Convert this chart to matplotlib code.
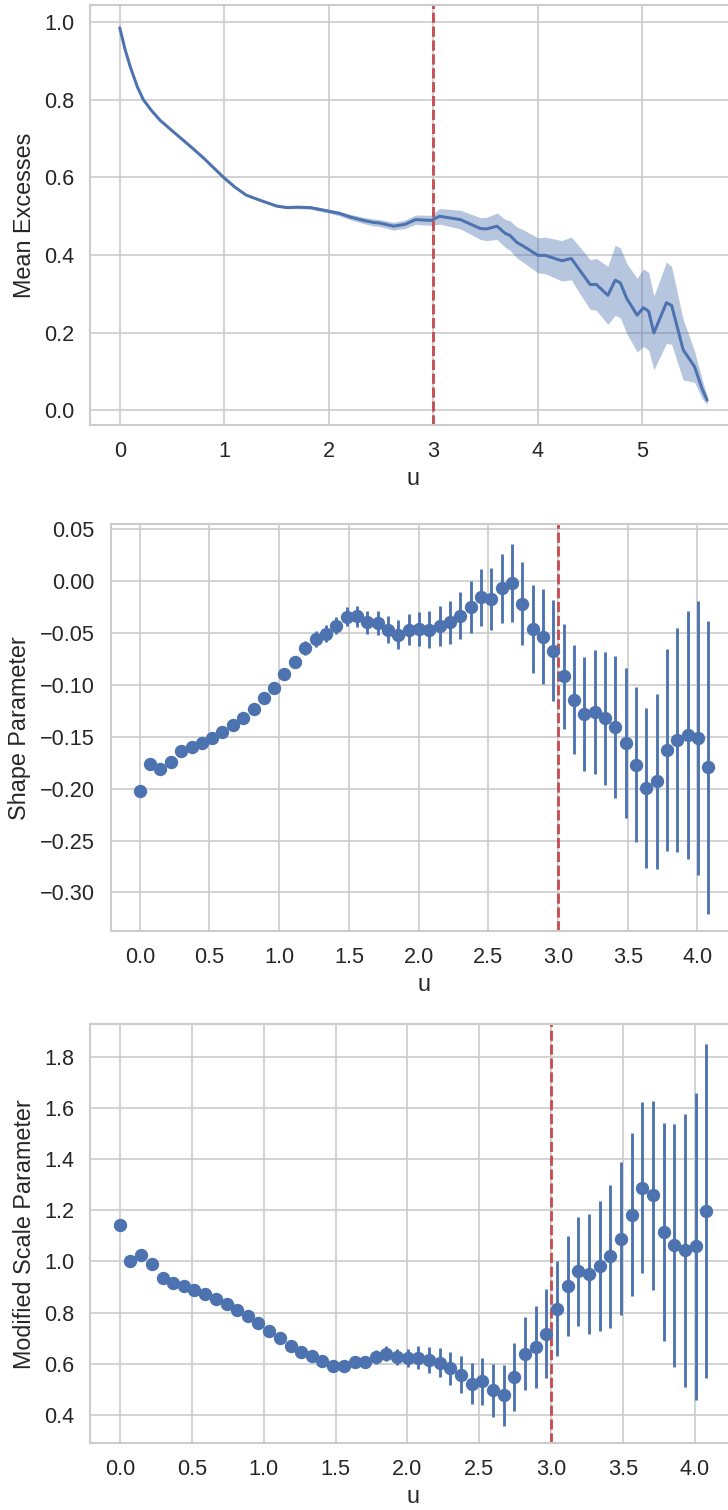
import numpy as np
import matplotlib
matplotlib.use("Agg")
import matplotlib.pyplot as plt
import seaborn as sns

# ---------------- data ----------------
# Mean excess plot
me_u = [0.0, 0.05, 0.10, 0.168, 0.225, 0.30, 0.385, 0.5, 0.6, 0.7, 0.8, 0.9, 1.0, 1.1,
        1.21, 1.35, 1.5, 1.6, 1.7, 1.82, 1.9, 2.01, 2.1, 2.2, 2.33, 2.42, 2.49, 2.62,
        2.73, 2.83, 2.98, 3.06, 3.26, 3.45, 3.51, 3.61, 3.69, 3.73, 3.80, 3.86, 4.00,
        4.07, 4.23, 4.32, 4.40, 4.50, 4.56, 4.67, 4.74, 4.79, 4.85, 4.95, 5.01, 5.06,
        5.11, 5.23, 5.28, 5.39, 5.50, 5.57, 5.62]
me_val = [0.985, 0.93, 0.885, 0.833, 0.80, 0.773, 0.747, 0.72, 0.697, 0.674, 0.65, 0.624,
          0.598, 0.575, 0.554, 0.54, 0.526, 0.522, 0.523, 0.522, 0.518, 0.512, 0.507,
          0.498, 0.489, 0.484, 0.482, 0.474, 0.479, 0.491, 0.489, 0.4996, 0.491, 0.468,
          0.467, 0.474, 0.455, 0.451, 0.432, 0.423, 0.399, 0.399, 0.385, 0.391, 0.361,
          0.324, 0.324, 0.296, 0.335, 0.328, 0.288, 0.245, 0.264, 0.255, 0.199, 0.277,
          0.270, 0.156, 0.112, 0.056, 0.026]
me_ci = [0.001, 0.001, 0.001, 0.001, 0.001, 0.001, 0.001, 0.001, 0.001, 0.001, 0.001,
         0.001, 0.002, 0.002, 0.002, 0.002, 0.003, 0.003, 0.004, 0.004, 0.005, 0.005,
         0.006, 0.007, 0.008, 0.009, 0.009, 0.010, 0.011, 0.012, 0.013, 0.020, 0.024,
         0.028, 0.030, 0.034, 0.036, 0.038, 0.040, 0.042, 0.045, 0.047, 0.052, 0.055,
         0.060, 0.064, 0.067, 0.075, 0.090, 0.090, 0.090, 0.095, 0.100, 0.100, 0.095,
         0.105, 0.100, 0.078, 0.040, 0.025, 0.011]

# Parameter stability plots (common threshold grid)
u_grid = [0.000, 0.074, 0.148, 0.222, 0.297, 0.371, 0.445, 0.519, 0.593, 0.667, 0.742,
          0.816, 0.890, 0.964, 1.038, 1.112, 1.187, 1.261, 1.335, 1.409, 1.483, 1.557,
          1.632, 1.706, 1.780, 1.854, 1.928, 2.002, 2.076, 2.151, 2.225, 2.299, 2.373,
          2.447, 2.521, 2.596, 2.670, 2.744, 2.818, 2.892, 2.966, 3.041, 3.115, 3.189,
          3.263, 3.337, 3.411, 3.486, 3.560, 3.634, 3.708, 3.782, 3.856, 3.931, 4.005,
          4.079]
shape_val = [-0.2019, -0.1762, -0.181, -0.1742, -0.164, -0.1594, -0.1556, -0.151, -0.1453,
             -0.1386, -0.1318, -0.1231, -0.1128, -0.1025, -0.089, -0.0781, -0.0643,
             -0.0559, -0.0505, -0.0428, -0.0341, -0.0338, -0.0395, -0.0402, -0.0466,
             -0.0514, -0.0466, -0.0456, -0.0466, -0.0434, -0.0395, -0.0331, -0.0248,
             -0.0154, -0.0170, -0.0068, -0.0016, -0.0215, -0.046, -0.0534, -0.0669,
             -0.0916, -0.1141, -0.1279, -0.126, -0.1321, -0.1408, -0.1559, -0.1768,
             -0.1993, -0.1929, -0.1626, -0.1527, -0.1479, -0.1511, -0.1794]
shape_err = [0.002, 0.002, 0.002, 0.002, 0.002, 0.003, 0.003, 0.003, 0.003, 0.003, 0.004,
             0.004, 0.004, 0.005, 0.005, 0.006, 0.007, 0.0075, 0.008, 0.0085, 0.0095,
             0.010, 0.011, 0.012, 0.013, 0.014, 0.0151, 0.0164, 0.0177, 0.0193, 0.0209,
             0.0228, 0.0249, 0.0275, 0.0299, 0.0333, 0.0373, 0.0402, 0.0423, 0.0455,
             0.0485, 0.0508, 0.0527, 0.0551, 0.0599, 0.0641, 0.0683, 0.072, 0.0747,
             0.0768, 0.0841, 0.0972, 0.108, 0.1196, 0.1324, 0.141]
scale_val = [1.143, 1.0, 1.026, 0.988, 0.935, 0.917, 0.902, 0.889, 0.871, 0.854, 0.835,
             0.811, 0.785, 0.760, 0.728, 0.700, 0.668, 0.646, 0.630, 0.610, 0.592, 0.592,
             0.607, 0.607, 0.626, 0.639, 0.626, 0.622, 0.623, 0.616, 0.604, 0.583, 0.557,
             0.522, 0.531, 0.496, 0.476, 0.548, 0.639, 0.665, 0.717, 0.815, 0.904, 0.962,
             0.952, 0.982, 1.0195, 1.089, 1.182, 1.288, 1.258, 1.115, 1.0625, 1.043,
             1.0586, 1.197]
scale_err = [0.003, 0.003, 0.004, 0.004, 0.005, 0.005, 0.006, 0.006, 0.007, 0.007, 0.008,
             0.008, 0.009, 0.009, 0.010, 0.010, 0.012, 0.013, 0.014, 0.016, 0.017, 0.019,
             0.021, 0.024, 0.026, 0.029, 0.032, 0.036, 0.0456, 0.0508, 0.0573, 0.0645,
             0.073, 0.0814, 0.0925, 0.104, 0.1185, 0.1316, 0.1433, 0.159, 0.174, 0.186,
             0.197, 0.213, 0.234, 0.255, 0.278, 0.30, 0.318, 0.335, 0.37, 0.425, 0.475,
             0.535, 0.601, 0.651]
threshold = 3.0

# ---------------- style ----------------
sns.set_theme(style="whitegrid")
plt.rcParams['font.family'] = ['Liberation Sans', 'DejaVu Sans']
plt.rcParams['xtick.major.size'] = 0
plt.rcParams['ytick.major.size'] = 0
plt.rcParams['xtick.major.pad'] = 9.5
plt.rcParams['ytick.major.pad'] = 9.5
plt.rcParams['xtick.labelsize'] = 13
plt.rcParams['ytick.labelsize'] = 13
plt.rcParams['axes.labelsize'] = 14

blue = "#4C72B0"
red = "#C44E52"

DPI = 120
fig = plt.figure(figsize=(728 / DPI, 1510 / DPI), dpi=DPI)

ax1 = fig.add_axes([0.1243, 0.7185, 0.8873, 0.2783])
ax2 = fig.add_axes([0.1518, 0.3834, 0.8617, 0.2693])
ax3 = fig.add_axes([0.1243, 0.0442, 0.8867, 0.2775])

vline_kw = dict(color=red, ls=(0, (3.6, 1.3)), lw=1.7)

# Mean excess
mu = np.array(me_u)
mv = np.array(me_val)
mc = np.array(me_ci)
ax1.fill_between(mu, mv - mc, mv + mc, color=blue, alpha=0.4, lw=0)
ax1.plot(mu, mv, color=blue, lw=1.8)
ax1.axvline(threshold, **vline_kw)
ax1.set_xlim(-0.28, 5.90)
ax1.set_ylim(-0.038, 1.044)
ax1.set_xticks([0, 1, 2, 3, 4, 5])
ax1.set_yticks([0.0, 0.2, 0.4, 0.6, 0.8, 1.0])
ax1.set_xlabel("u")
ax1.set_ylabel("Mean Excesses")

# Shape parameter
ax2.errorbar(u_grid, shape_val, yerr=shape_err, fmt="o", color=blue, ms=7, elinewidth=1.7,
             capsize=0)
ax2.axvline(threshold, **vline_kw)
ax2.set_xlim(-0.21, 4.29)
ax2.set_ylim(-0.3373, 0.0548)
ax2.set_xticks(np.arange(0, 4.01, 0.5))
ax2.set_yticks([-0.30, -0.25, -0.20, -0.15, -0.10, -0.05, 0.00, 0.05])
ax2.set_xlabel("u")
ax2.set_ylabel("Shape Parameter")

# Modified scale parameter
ax3.errorbar(u_grid, scale_val, yerr=scale_err, fmt="o", color=blue, ms=7, elinewidth=1.7,
             capsize=0)
ax3.axvline(threshold, **vline_kw)
ax3.set_xlim(-0.204, 4.285)
ax3.set_ylim(0.289, 1.927)
ax3.set_xticks(np.arange(0, 4.01, 0.5))
ax3.set_yticks([0.4, 0.6, 0.8, 1.0, 1.2, 1.4, 1.6, 1.8])
ax3.set_xlabel("u")
ax3.set_ylabel("Modified Scale Parameter")

for ax in (ax1, ax2, ax3):
    ax.xaxis.labelpad = 3
    ax.yaxis.labelpad = 5

fig.savefig("out.png", dpi=DPI)
